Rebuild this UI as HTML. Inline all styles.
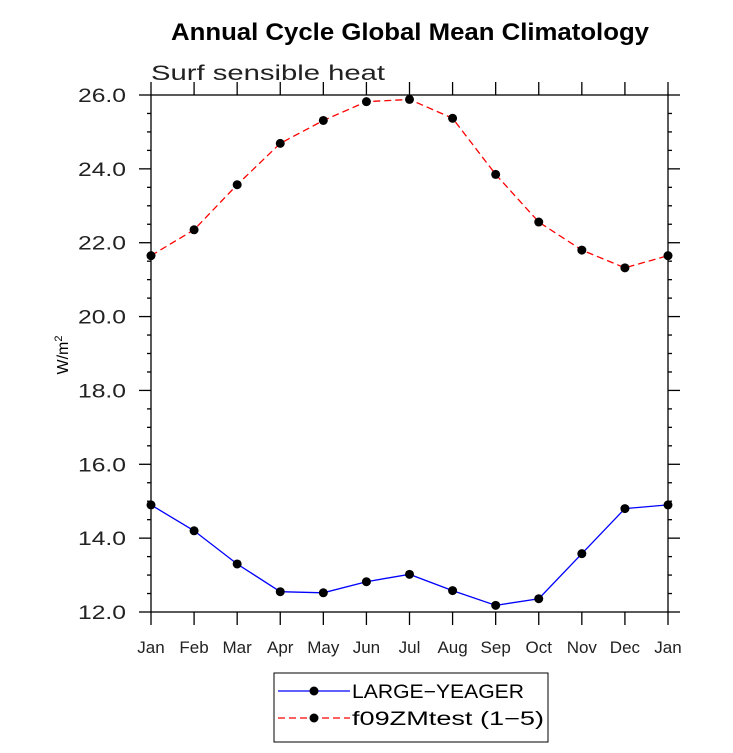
<!DOCTYPE html>
<html><head><meta charset="utf-8"><style>
body{margin:0;background:#fff}
svg text{font-family:"Liberation Sans",sans-serif}
</style></head><body>
<svg width="733" height="748" viewBox="0 0 733 748">
<text x="410" y="40" text-anchor="middle" font-size="24" font-weight="bold" textLength="478" lengthAdjust="spacingAndGlyphs">Annual Cycle Global Mean Climatology</text>
<text x="151" y="80" font-size="21" fill="#222" textLength="234" lengthAdjust="spacingAndGlyphs">Surf sensible heat</text>
<text transform="translate(68,355) rotate(-90)" text-anchor="middle" font-size="16">W/m<tspan dy="-6" font-size="11">2</tspan></text>
<g id="axes"></g>
<g id="series"></g>
<g>
<rect x="274" y="673" width="274" height="69" fill="none" stroke="#000" stroke-width="1"/>
<line x1="278" y1="691" x2="350" y2="691" stroke="#00f" stroke-width="1.3"/>
<circle cx="314" cy="691" r="4.5" fill="#000"/>
<text x="352" y="698" font-size="19" textLength="172" lengthAdjust="spacingAndGlyphs">LARGE−YEAGER</text>
<line x1="278" y1="718" x2="350" y2="718" stroke="#f00" stroke-width="1.3" stroke-dasharray="7,4"/>
<circle cx="314" cy="718" r="4.5" fill="#000"/>
<text x="352" y="725" font-size="19" textLength="192" lengthAdjust="spacingAndGlyphs">f09ZMtest (1−5)</text>
</g>
</svg>
<script>
const months=["Jan","Feb","Mar","Apr","May","Jun","Jul","Aug","Sep","Oct","Nov","Dec","Jan"];
const largeYeager=[14.9,14.2,13.3,12.55,12.52,12.82,13.02,12.58,12.18,12.36,13.58,14.8,14.9];
const f09ZMtest=[21.65,22.35,23.57,24.69,25.31,25.82,25.88,25.37,23.85,22.56,21.8,21.32,21.65];
const yTicks=[12,14,16,18,20,22,24,26];
const X0=151,X1=668,Y0=612,Y1=95,YMIN=12,YMAX=26;
const NS="http://www.w3.org/2000/svg";
const xs=i=>X0+(X1-X0)*i/(months.length-1);
const ys=v=>Y0-(v-YMIN)/(YMAX-YMIN)*(Y0-Y1);
function mk(t,a,p){const e=document.createElementNS(NS,t);for(const k in a)e.setAttribute(k,a[k]);p.appendChild(e);return e;}
const ax=document.getElementById('axes');
const frame=mk('rect',{x:X0,y:Y1,width:X1-X0,height:Y0-Y1,fill:'none',stroke:'#000','stroke-width':1.3},ax);


for(let v=YMIN;v<=YMAX+1e-9;v+=0.5){
  const maj=Math.abs(v-Math.round(v/2)*2)<1e-9;const L=maj?12:4;const y=ys(v);
  mk('line',{x1:X0-L,y1:y,x2:X0,y2:y,stroke:'#000','stroke-width':1.3},ax);
  mk('line',{x1:X1,y1:y,x2:X1+L,y2:y,stroke:'#000','stroke-width':1.3},ax);
}
yTicks.forEach(v=>{const t=mk('text',{x:X0-25,y:ys(v)+7,'text-anchor':'end','font-size':19,fill:'#222',textLength:48,lengthAdjust:'spacingAndGlyphs'},ax);t.textContent=v.toFixed(1);

});
months.forEach((m,i)=>{const x=xs(i);
  mk('line',{x1:x,y1:Y0,x2:x,y2:Y0+13,stroke:'#000','stroke-width':1.3},ax);
  mk('line',{x1:x,y1:Y1-13,x2:x,y2:Y1,stroke:'#000','stroke-width':1.3},ax);
  const t=mk('text',{x:x,y:653,'text-anchor':'middle','font-size':17,fill:'#222'},ax);t.textContent=m;
  
  });
const sg=document.getElementById('series');
function series(vals,col,dash,name){
  const p=mk('polyline',{points:vals.map((v,i)=>xs(i)+','+ys(v)).join(' '),fill:'none',stroke:col,'stroke-width':1.3,'stroke-dasharray':dash},sg);
  
  
  vals.forEach((v,i)=>{const c=mk('circle',{cx:xs(i),cy:ys(v),r:4.5,fill:'#000'},sg);
    
    });
}
series(largeYeager,'#00f','none','large-yeager');
series(f09ZMtest,'#f00','7,4','f09zmtest');
</script>
</body></html>
